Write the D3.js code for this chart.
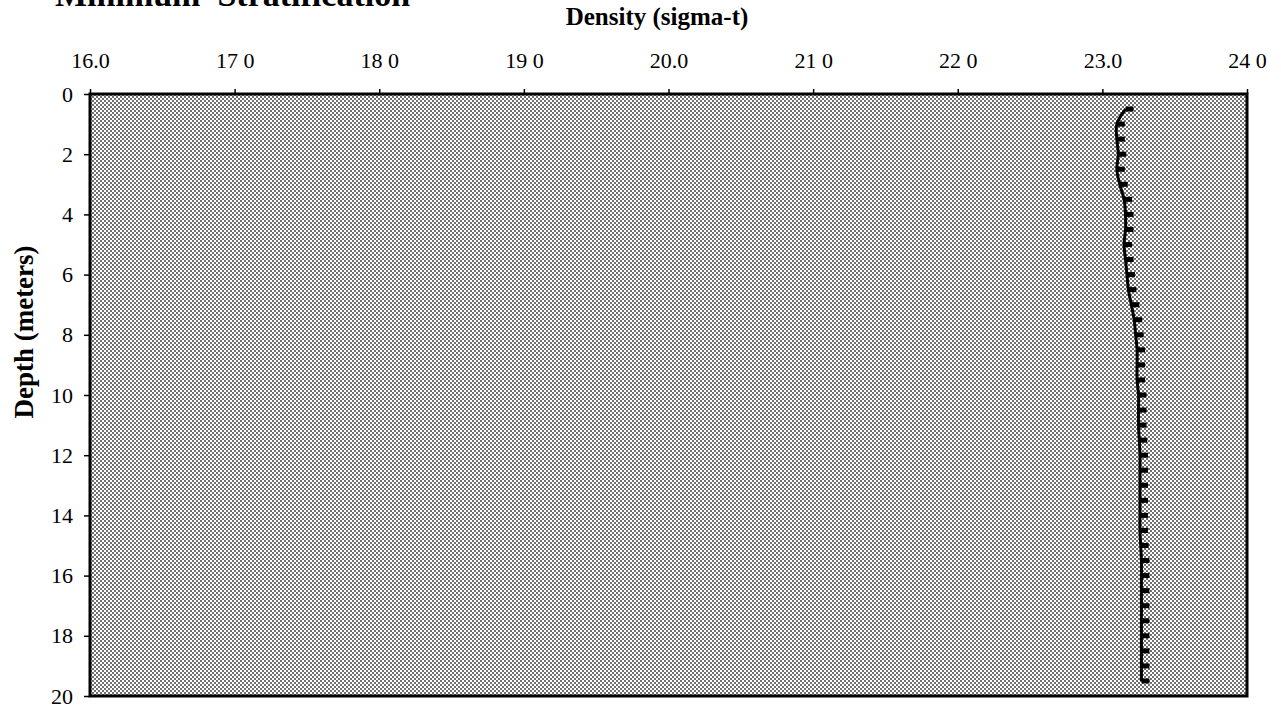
<!DOCTYPE html>
<html>
<head>
<meta charset="utf-8">
<script src="https://cdn.jsdelivr.net/npm/d3@7"></script>
<style>
  body { margin: 0; background: #fff; }
  svg { display: block; }
</style>
</head>
<body>
<div id="chart"></div>
<script>
// profile: depth (m) vs density (sigma-t)
const depth = [0.5, 1.0, 1.5, 2.0, 2.5, 3.0, 3.5, 4.0, 4.5, 5.0, 5.5, 6.0, 6.5, 7.0, 7.5,
  8.0, 8.5, 9.0, 9.5, 10.0, 10.5, 11.0, 11.5, 12.0, 12.5, 13.0, 13.5, 14.0, 14.5, 15.0,
  15.5, 16.0, 16.5, 17.0, 17.5, 18.0, 18.5, 19.0, 19.5]
const sigmaT = [23.16, 23.10, 23.10, 23.11, 23.10, 23.12, 23.15, 23.16, 23.16, 23.15, 23.16,
  23.17, 23.18, 23.20, 23.22, 23.23, 23.24, 23.24, 23.24, 23.25, 23.25, 23.25, 23.255, 23.26,
  23.26, 23.26, 23.26, 23.26, 23.26, 23.265, 23.27, 23.27, 23.27, 23.27, 23.27, 23.27, 23.27,
  23.27, 23.27]

const densityTicks = [16, 17, 18, 19, 20, 21, 22, 23, 24]
const densityTickLabels = ['16.0', '17 0', '18 0', '19 0', '20.0', '21 0', '22 0', '23.0', '24 0']
const depthTicks = [0, 2, 4, 6, 8, 10, 12, 14, 16, 18, 20]

const width = 1281, height = 710
const margin = {top: 94, right: 34, bottom: 14, left: 90}
const serif = 'Liberation Serif, Times New Roman, serif'

const svg = d3.select('#chart')
  .append('svg')
    .attr('width', width)
    .attr('height', height)

// halftone-ish background like the scanned original
const defs = svg.append('defs')
const pat = defs.append('pattern')
    .attr('id', 'stipple')
    .attr('width', 4)
    .attr('height', 4)
    .attr('patternUnits', 'userSpaceOnUse')
pat.append('rect').attr('width', 4).attr('height', 4).attr('fill', '#fff')
pat.append('rect').attr('x', 0).attr('y', 0).attr('width', 2).attr('height', 2).attr('fill', '#707070')
pat.append('rect').attr('x', 2).attr('y', 2).attr('width', 2).attr('height', 2).attr('fill', '#707070')

const x = d3.scaleLinear()
  .domain([16, 24])
  .range([margin.left, width - margin.right])

const y = d3.scaleLinear()
  .domain([0, 20])
  .range([margin.top, height - margin.bottom])

svg.append('rect')
  .attr('x', x(16))
  .attr('y', y(0))
  .attr('width', x(24) - x(16))
  .attr('height', y(20) - y(0))
  .attr('fill', 'url(#stipple)')

// title (cut off at top of the page in the original)
svg.append('text')
  .attr('x', 55)
  .attr('y', 6)
  .attr('font-family', serif)
  .attr('font-weight', 'bold')
  .attr('font-size', 34)
  .attr('xml:space', 'preserve')
  .text('Minimum  Stratification')

// axes
const xAxis = svg.append('g')
  .attr('transform', `translate(0,${y(0)})`)
  .call(d3.axisTop(x)
    .tickValues(densityTicks)
    .tickFormat((d, i) => densityTickLabels[i])
    .tickSize(5)
    .tickPadding(21))
xAxis.select('.domain').remove()

const yAxis = svg.append('g')
  .attr('transform', `translate(${x(16)},0)`)
  .call(d3.axisLeft(y)
    .tickValues(depthTicks)
    .tickFormat(d3.format('d'))
    .tickSize(6)
    .tickPadding(11))
yAxis.select('.domain').remove()

svg.selectAll('.tick text')
  .attr('font-family', serif)
  .attr('font-size', 22)
  .attr('fill', '#000')
svg.selectAll('.tick line')
  .attr('stroke', '#000')
  .attr('stroke-width', 1.5)

// frame
svg.append('rect')
  .attr('x', x(16))
  .attr('y', y(0))
  .attr('width', x(24) - x(16))
  .attr('height', y(20) - y(0))
  .attr('fill', 'none')
  .attr('stroke', '#000')
  .attr('stroke-width', 3)

// axis titles
svg.append('text')
  .attr('x', 657)
  .attr('y', 25)
  .attr('text-anchor', 'middle')
  .attr('font-family', serif)
  .attr('font-weight', 'bold')
  .attr('font-size', 25)
  .text('Density (sigma-t)')

svg.append('text')
  .attr('transform', 'translate(33,332) rotate(-90)')
  .attr('text-anchor', 'middle')
  .attr('font-family', serif)
  .attr('font-weight', 'bold')
  .attr('font-size', 27)
  .text('Depth (meters)')

// profile line
const pts = depth.map((d, i) => ({depth: d, sigma: sigmaT[i]}))

const line = d3.line()
  .x(d => x(d.sigma))
  .y(d => y(d.depth))
  .curve(d3.curveCatmullRom)

svg.append('path')
  .datum(pts)
  .attr('d', line)
  .attr('fill', 'none')
  .attr('stroke', '#000')
  .attr('stroke-width', 3)

// dash markers sit on the right of the line
svg.selectAll('rect.marker')
  .data(pts)
  .enter()
  .append('rect')
    .attr('class', 'marker')
    .attr('x', d => x(d.sigma))
    .attr('y', d => y(d.depth) - 2.5)
    .attr('width', 8)
    .attr('height', 5)
    .attr('fill', '#000')
</script>
</body>
</html>
